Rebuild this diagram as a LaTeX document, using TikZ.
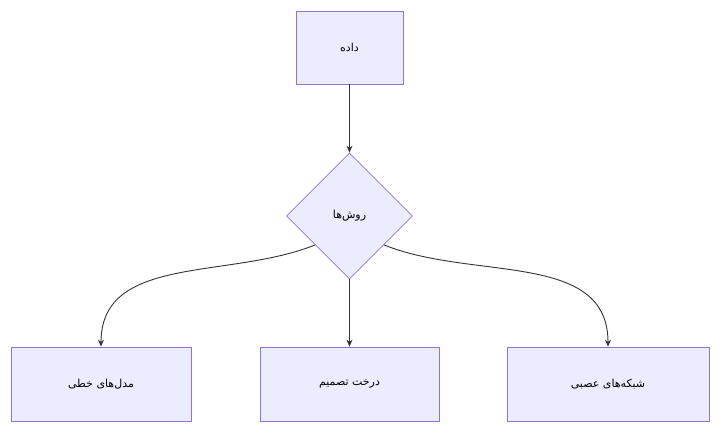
\documentclass[tikz,border=0pt]{standalone}
\usepackage{fontspec}
\newfontfamily\arabicfont[Script=Arabic]{DejaVu Sans}
\TeXXeTstate=1
\usetikzlibrary{arrows.meta,shapes.geometric}
\definecolor{boxfill}{HTML}{ECECFF}
\definecolor{boxline}{HTML}{9370DB}
\definecolor{edgecol}{HTML}{333333}
\tikzset{
    >={Stealth[length=7pt,width=6pt]},
    box/.style={rectangle,draw=boxline,fill=boxfill,line width=0.8pt,
        font=\arabicfont\fontsize{11}{13}\selectfont,inner sep=0pt},
    choice/.style={diamond,draw=boxline,fill=boxfill,line width=0.8pt,
        aspect=1,minimum size=126pt,inner sep=0pt,
        font=\arabicfont\fontsize{11}{13}\selectfont},
    edge/.style={->,draw=edgecol,line width=0.9pt}
}
\begin{document}
\begin{tikzpicture}[x=1pt,y=1pt]
    \useasboundingbox (0,0) rectangle (720,432);
    % nodes
    \node[box,minimum width=107pt,minimum height=73pt] (data) at (349.5,384.5) {\beginR داده\endR};
    \node[choice] (method) at (349.5,216) {\beginR روش‌ها\endR};
    \node[box,minimum width=180pt,minimum height=74pt] (linear) at (101,48) {\beginR مدل‌های خطی\endR};
    \node[box,minimum width=179pt,minimum height=74pt] (tree) at (349.5,48) {\beginR درخت تصمیم\endR};
    \node[box,minimum width=202pt,minimum height=74pt] (neural) at (608,48) {\beginR شبکه‌های عصبی\endR};
    % edges
    \draw[edge] (data) -- (method);
    \draw[edge] (method.south) -- (tree.north);
    \draw[edge] (method.220) to[out=202,in=90] (linear.north);
    \draw[edge] (method.320) to[out=-22,in=90] (neural.north);
\end{tikzpicture}
\end{document}
